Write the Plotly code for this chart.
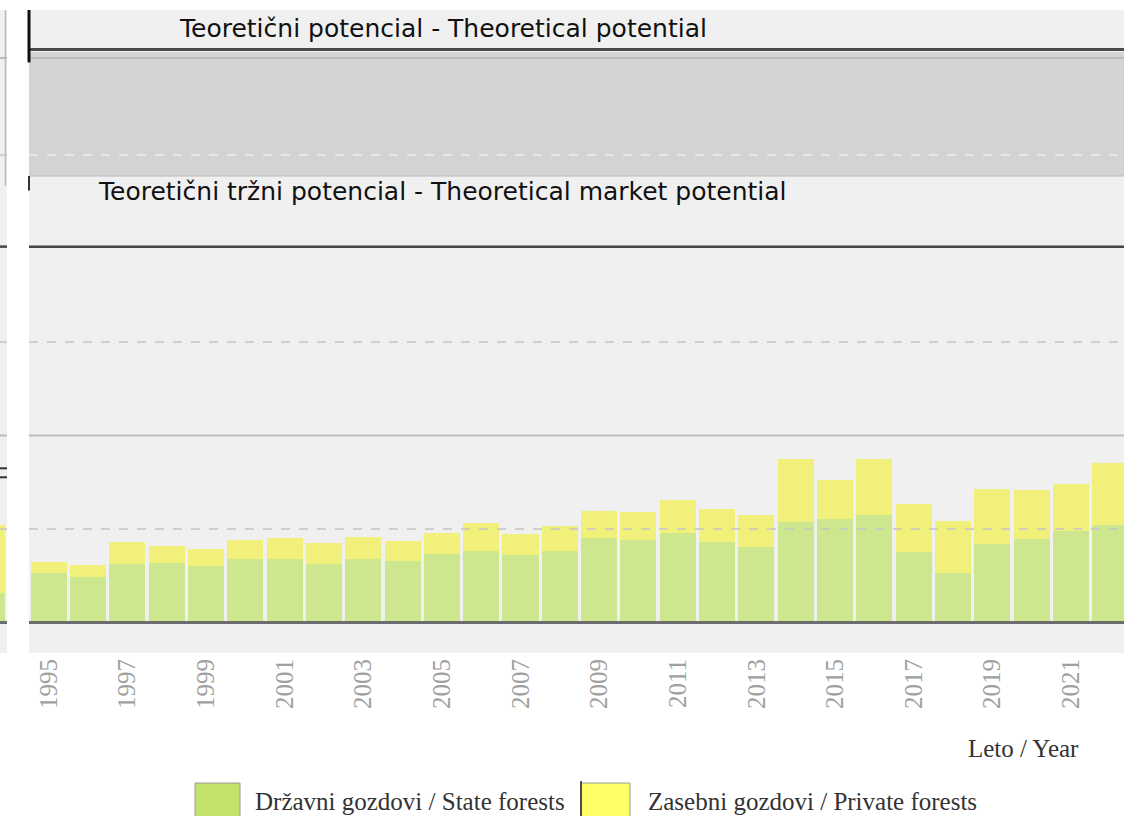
import plotly.graph_objects as go

# ---- data (grid units) ----
years = list(range(1995, 2023))
state_forests = [0.526, 0.490, 0.626, 0.633, 0.607, 0.676, 0.682, 0.626, 0.682, 0.658,
                 0.736, 0.768, 0.725, 0.768, 0.904, 0.879, 0.960, 0.861, 0.811, 1.072,
                 1.110, 1.150, 0.757, 0.526, 0.840, 0.893, 0.982, 1.043]
private_forests = [0.124, 0.122, 0.235, 0.188, 0.175, 0.206, 0.221, 0.221, 0.229, 0.219,
                   0.221, 0.296, 0.221, 0.264, 0.286, 0.303, 0.347, 0.350, 0.339, 0.674,
                   0.414, 0.596, 0.507, 0.559, 0.588, 0.524, 0.503, 0.660]
tick_years = list(range(1995, 2022, 2))
tick_labels = [str(y) for y in tick_years]

# partially visible neighbouring panel (left strip)
left_x = [0]
left_state = [0.312]
left_private = [0.730]

theoretical_potential = 6.128
potential_band = [4.775, 6.102]
market_potential = 4.02
dashed_grid = [1, 3, 5]
solid_grid = [2, 6.037]

GREEN = "#cde78f"
YELLOW = "#f1f07a"

W, H = 1124, 816
TOP, BOT = 10, 653
PH = BOT - TOP


def py(y):
    """pixel row -> paper y (paper is the plot area)"""
    return (BOT - y) / PH


def px(x):
    return x / W


fig = go.Figure()

fig.add_trace(go.Bar(x=years, y=state_forests, marker=dict(color=GREEN, line=dict(width=0)),
                     name="Državni gozdovi / State forests", showlegend=False))
fig.add_trace(go.Bar(x=years, y=private_forests, marker=dict(color=YELLOW, line=dict(width=0)),
                     name="Zasebni gozdovi / Private forests", showlegend=False))
fig.add_trace(go.Bar(x=left_x, y=left_state, marker=dict(color=GREEN, line=dict(width=0)),
                     xaxis="x2", yaxis="y", width=0.9, showlegend=False))
fig.add_trace(go.Bar(x=left_x, y=left_private, marker=dict(color=YELLOW, line=dict(width=0)),
                     xaxis="x2", yaxis="y", width=0.9, showlegend=False))

px_per_unit = 39.32
x0_px = 29
xr0 = 1994.5
xr1 = xr0 + (W - x0_px) / px_per_unit

shapes = []
shapes.append(dict(type="rect", xref="x domain", yref="y", x0=0, x1=1,
                   y0=potential_band[0], y1=potential_band[1],
                   fillcolor="#d3d3d3", line=dict(width=0), layer="below"))
shapes.append(dict(type="line", xref="x domain", yref="y", x0=0, x1=1,
                   y0=potential_band[0], y1=potential_band[0],
                   line=dict(color="#bdbdbd", width=1), layer="below"))
for ref in ["x domain", "x2 domain"]:
    for g in dashed_grid:
        col = "#ececec" if g == 5 and ref == "x domain" else "#c8c8c8"
        shapes.append(dict(type="line", xref=ref, yref="y", x0=0, x1=1, y0=g, y1=g,
                           line=dict(color=col, width=2, dash="dash"), layer="above",
                           opacity=0.8))
    for g in solid_grid:
        shapes.append(dict(type="line", xref=ref, yref="y", x0=0, x1=1, y0=g, y1=g,
                           line=dict(color="#bcbcbc", width=2), layer="below"))
    shapes.append(dict(type="line", xref=ref, yref="y", x0=0, x1=1,
                       y0=market_potential, y1=market_potential,
                       line=dict(color="#454545", width=2.5), layer="above"))
    shapes.append(dict(type="line", xref=ref, yref="y", x0=0, x1=1, y0=0, y1=0,
                       line=dict(color="#6e6e6e", width=3), layer="above"))
shapes.append(dict(type="line", xref="x domain", yref="y", x0=0, x1=1,
                   y0=theoretical_potential, y1=theoretical_potential,
                   line=dict(color="#4a4a4a", width=3), layer="above"))
for v in [1.649, 1.553]:
    shapes.append(dict(type="line", xref="x2 domain", yref="y", x0=0, x1=1, y0=v, y1=v,
                       line=dict(color="#333333", width=2), layer="above"))
# vertical border fragments
shapes.append(dict(type="line", xref="paper", yref="y", x0=px(x0_px), x1=px(x0_px),
                   y0=6.56, y1=5.99, line=dict(color="#111111", width=3)))
shapes.append(dict(type="line", xref="paper", yref="y", x0=px(x0_px), x1=px(x0_px),
                   y0=4.775, y1=4.62, line=dict(color="#333333", width=2)))
shapes.append(dict(type="line", xref="paper", yref="y", x0=px(5.5), x1=px(5.5),
                   y0=6.56, y1=4.67, line=dict(color="#bbbbbb", width=1.5)))

# legend swatches
shapes.append(dict(type="rect", xref="paper", yref="paper",
                   x0=px(195), x1=px(240), y0=py(820), y1=py(783),
                   fillcolor="#c2e36a", line=dict(color="#9a9a9a", width=1)))
shapes.append(dict(type="rect", xref="paper", yref="paper",
                   x0=px(581), x1=px(630), y0=py(820), y1=py(783),
                   fillcolor="#ffff66", line=dict(color="#9a9a9a", width=1)))
shapes.append(dict(type="line", xref="paper", yref="paper",
                   x0=px(581), x1=px(581), y0=py(820), y1=py(781),
                   line=dict(color="#222222", width=1.5)))

annotations = [
    dict(text="Teoretični potencial - Theoretical potential", xref="paper", yref="paper",
         x=px(443), y=py(28), xanchor="center", yanchor="middle", showarrow=False,
         font=dict(family="DejaVu Sans", size=25, color="#111111")),
    dict(text="Teoretični tržni potencial - Theoretical market potential", xref="paper",
         yref="paper", x=px(442), y=py(191), xanchor="center", yanchor="middle",
         showarrow=False, font=dict(family="DejaVu Sans", size=25, color="#111111")),
    dict(text="Leto / Year", xref="paper", yref="paper", x=px(1081), y=py(748),
         xanchor="right", yanchor="middle", showarrow=False,
         font=dict(family="Liberation Serif", size=25, color="#333333")),
    dict(text="Državni gozdovi / State forests", xref="paper", yref="paper",
         x=px(253), y=py(802), xanchor="left", yanchor="middle", showarrow=False,
         font=dict(family="Liberation Serif", size=25, color="#333333")),
    dict(text="Zasebni gozdovi / Private forests", xref="paper", yref="paper",
         x=px(646), y=py(802), xanchor="left", yanchor="middle", showarrow=False,
         font=dict(family="Liberation Serif", size=25, color="#333333")),
]

y_top = (622.5 - TOP) / 93.5
y_bot = -(BOT - 622.5) / 93.5

fig.update_layout(
    width=W, height=H,
    margin=dict(l=0, r=0, t=TOP, b=H - BOT, pad=0),
    paper_bgcolor="white", plot_bgcolor="#f0f0f0",
    barmode="stack", bargap=0.084,
    showlegend=False,
    shapes=shapes, annotations=annotations,
    xaxis=dict(domain=[px(x0_px), 1], range=[xr0, xr1], tickmode="array",
               tickvals=tick_years, ticktext=tick_labels, tickangle=-90,
               tickfont=dict(family="Liberation Serif", size=25, color="#a0a0a0"),
               showgrid=False, zeroline=False, showline=False, ticks=""),
    xaxis2=dict(domain=[0, px(7)], range=[0.45 - 5 / px_per_unit, 0.45 + 2 / px_per_unit],
                anchor="y", showticklabels=False, showgrid=False, zeroline=False,
                showline=False, ticks=""),
    yaxis=dict(range=[y_bot, y_top], showticklabels=False, showgrid=False,
               zeroline=False, showline=False, ticks=""),
)

fig.write_html("out.html", config={"displayModeBar": False},
               post_script="document.body.style.margin='0';document.body.style.overflow='hidden';")
